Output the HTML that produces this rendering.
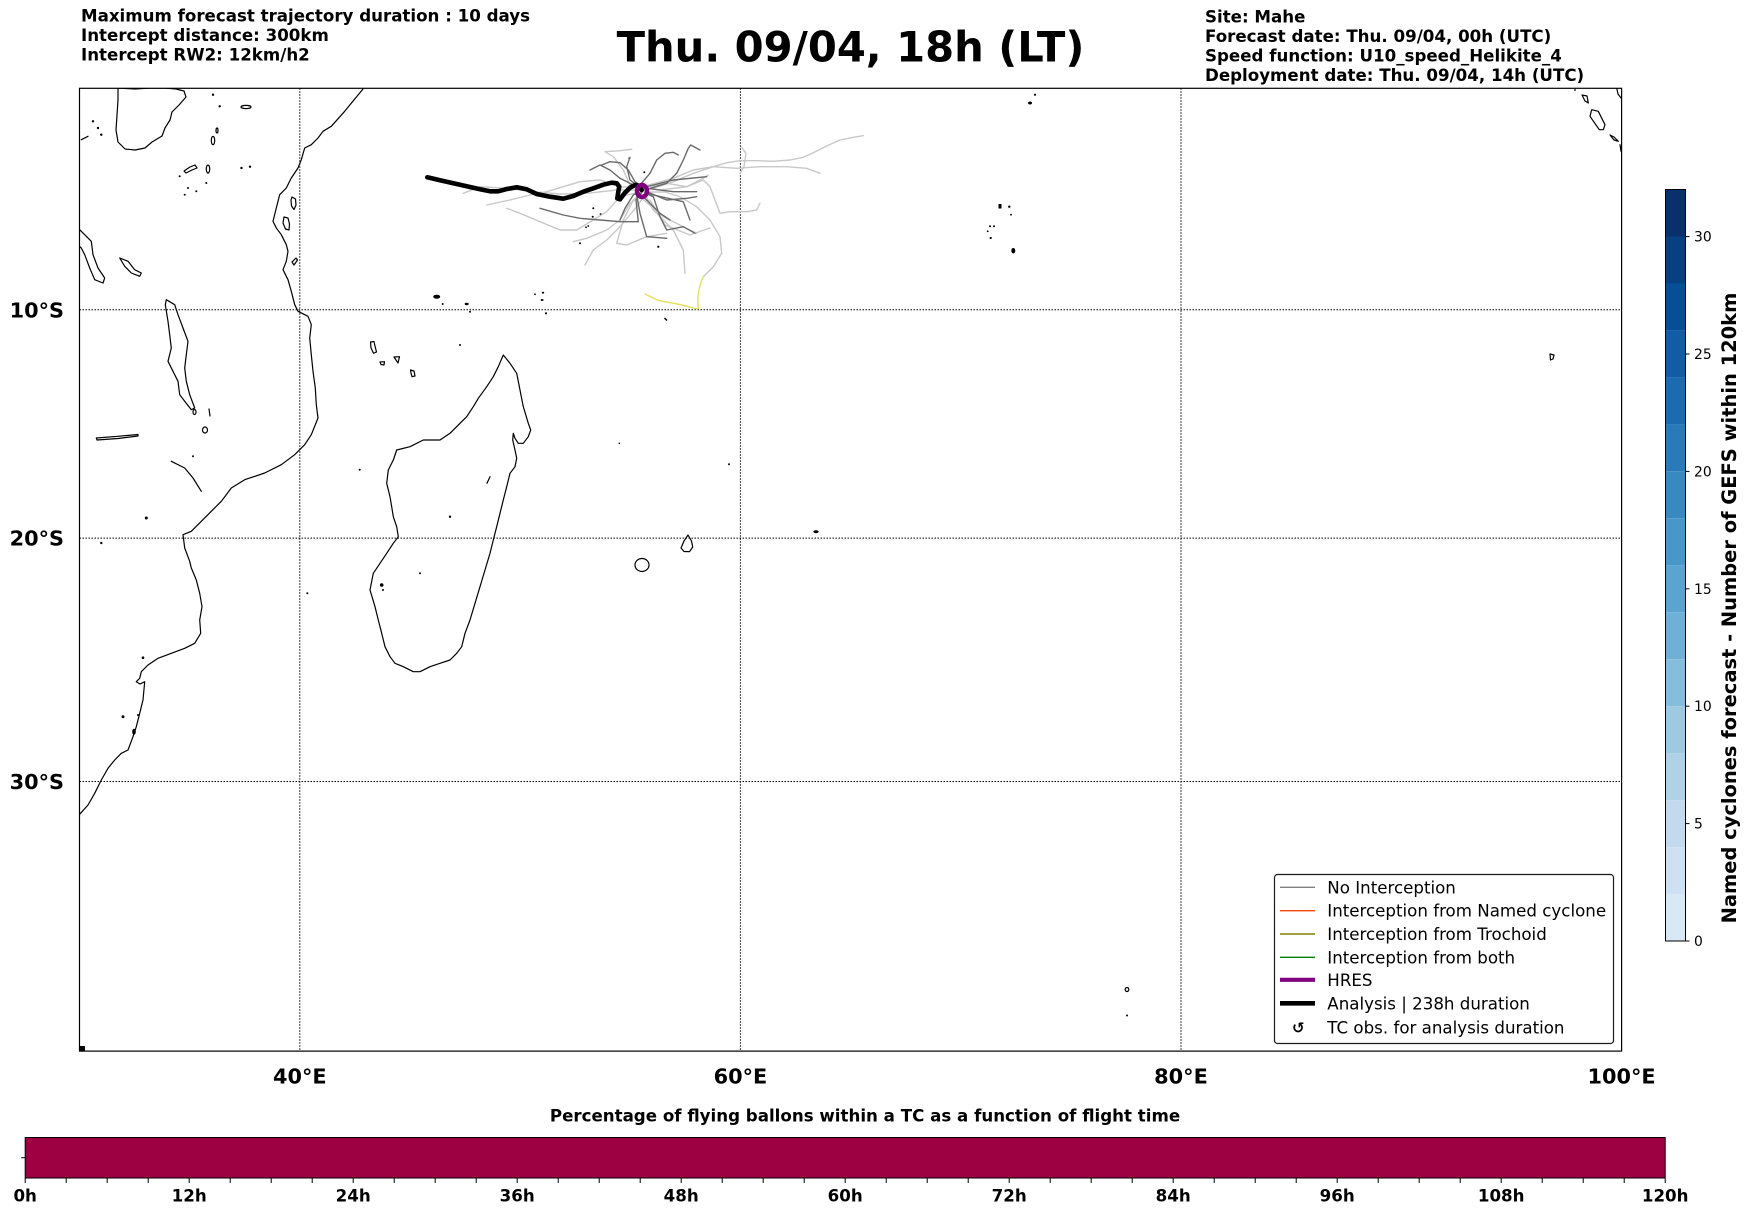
<!DOCTYPE html>
<html>
<head>
<meta charset="utf-8">
<style>
html,body{margin:0;padding:0;background:#fff;}
body{width:1752px;height:1213px;overflow:hidden;}
svg{display:block;}
text{font-family:"DejaVu Sans","Liberation Sans",sans-serif;}
.b{font-weight:bold;}
</style>
</head>
<body>
<svg width="1752" height="1213" viewBox="0 0 1752 1213" xmlns="http://www.w3.org/2000/svg">
<defs>
<clipPath id="mapclip"><rect x="79.5" y="88.3" width="1542.1" height="962.8"/></clipPath>
</defs>

<!-- Header text -->
<text class="b" x="81" y="21.5" font-size="16.67">Maximum forecast trajectory duration : 10 days</text>
<text class="b" x="81" y="41" font-size="16.67">Intercept distance: 300km</text>
<text class="b" x="81" y="60.5" font-size="16.67">Intercept RW2: 12km/h2</text>

<text class="b" x="850.5" y="61.7" font-size="41.67" text-anchor="middle">Thu. 09/04, 18h (LT)</text>

<text class="b" x="1205" y="22.5" font-size="16.67">Site: Mahe</text>
<text class="b" x="1205" y="42" font-size="16.67">Forecast date: Thu. 09/04, 00h (UTC)</text>
<text class="b" x="1205" y="61.5" font-size="16.67">Speed function: U10_speed_Helikite_4</text>
<text class="b" x="1205" y="81" font-size="16.67">Deployment date: Thu. 09/04, 14h (UTC)</text>

<!-- Map -->
<g clip-path="url(#mapclip)">
  <!-- Grid -->
  <g stroke="#000" stroke-width="1" stroke-dasharray="1.5 1.5" fill="none">
    <line x1="299.8" y1="88.3" x2="299.8" y2="1051"/>
    <line x1="740.4" y1="88.3" x2="740.4" y2="1051"/>
    <line x1="1181" y1="88.3" x2="1181" y2="1051"/>
    <line x1="79.5" y1="309.7" x2="1621.6" y2="309.7"/>
    <line x1="79.5" y1="538.1" x2="1621.6" y2="538.1"/>
    <line x1="79.5" y1="781.5" x2="1621.6" y2="781.5"/>
  </g>

  <!-- Coastlines -->
  <g stroke="#000" stroke-width="1.2" fill="none" stroke-linejoin="round" stroke-linecap="round">
    <!-- Africa -->
    <polyline points="363,89 344.7,111.3 331.3,126.3 323,131.3 318,138 311.3,144.7 304.7,148 301.3,159.7 298,168 291.3,178 286.3,188 279.7,194.7 276.3,208 273,221.3 276.3,228 281.3,234.7 286.3,244.7 288,251.3 286.3,261.3 283,269.7 288,279.7 291.3,291.3 294.7,304.7 298,311.3 308,316.3 311.3,324.7 309.7,338 311.3,354.7 313,371.3 315.3,388 316.3,404.7 318,418 311.3,434.7 304.7,444.7 294.7,454.7 281.3,464.7 264.7,473 244.7,479.7 231.3,488 221.3,501.3 211.3,511.3 201.3,521.3 191.3,531.3 183,534.7 184.7,548 189.7,561.3 191.3,568 193,572 196.3,580 199.7,593.3 202,606.7 199.7,620 200.7,633.3 194.7,643.3 184.7,648.3 171.3,653.3 158,658.3 148,665 141.3,671.7 139.7,678.3 136.3,681.7 140,684 144.7,681.7 143,700 139.7,713.3 136.3,726.7 133,736.7 128,750 121.3,753.3 114.7,760 108,768.3 101.3,780 94.7,793.3 88,805 79,815"/>
    <!-- Lake Victoria -->
    <polygon points="118,88 135,89 150,88 165,88 176,89 184,91 186,97 179,105 172,112 170,120 165,128 162,136 152,142 145,148 135,150 125,149 118,142 116,130 117,115 118,100"/>
    <polyline points="81.3,139.7 88,136.3"/>
    <!-- Lake Tanganyika -->
    <polygon points="79,229 81.3,231.3 91.3,241.3 93,254.7 98,268 104.7,278 103,283 94.7,279.7 89.7,268 84.7,254.7 81.3,248 79,246"/>
    <!-- Lake Rukwa -->
    <polygon points="119.7,258 128,261.3 134.7,269.7 141.3,273 139.7,276.3 131.3,273 124.7,266.3"/>
    <!-- Lake Malawi -->
    <polygon points="166.3,299.7 174.7,304.7 178,314.7 183,328 188,341.3 186.3,354.7 184.7,368 186.3,381.3 189.7,394.7 194.7,408 191.3,409.7 184.7,401.3 179.7,394.7 178,381.3 173,371.3 168,361.3 171.3,348 169.7,334.7 168,321.3 165.3,304.7"/>
    <ellipse cx="194.5" cy="412" rx="1.5" ry="2.5"/>
    <polyline points="209,409 210,416"/>
    <ellipse cx="205" cy="430" rx="2.5" ry="3"/>
    <!-- Lake Kariba -->
    <polygon points="96.3,438 118,436.3 138,434.5 138,436 118,438.5 97,440"/>
    <!-- Cahora Bassa -->
    <polyline points="171.3,461.3 184.7,468 193,478 201.3,491.3"/>
    <!-- small lakes -->
    <ellipse cx="246" cy="107" rx="5" ry="1.6"/>
    <ellipse cx="217" cy="130.5" rx="1" ry="2.5"/>
    <ellipse cx="213" cy="140.5" rx="1.7" ry="4.2"/>
    <polygon points="184,171 190,167 195,165 197,168 192,170 186,173"/>
    <ellipse cx="208" cy="169" rx="1.7" ry="4"/>
    <!-- Pemba, Zanzibar, Mafia -->
    <polygon points="292,197 295.5,199 296,205 294,209.5 291.5,206 291,200"/>
    <polygon points="284,217 288,218 289.5,224 289,230 285.5,229 283,223"/>
    <polygon points="292,262 296,258 297.5,260 294,265"/>
    <!-- Comoros / Mayotte -->
    <polygon points="370.5,342 374,341.5 375,346 376.5,352 373.5,353.3 371,348"/>
    <polygon points="380,362 384.5,361.7 384,365 381,364.5"/>
    <polygon points="394,357 399.5,356.7 398,363 396,360"/>
    <polygon points="410.5,370 414,371 415,376 412,376.7 411,373"/>
    <!-- Madagascar -->
    <polygon points="503.3,355 510,363.3 516.7,373.3 520,390 523.3,406.7 528.3,423.3 530.7,430 528.3,436.7 523.3,443.3 518.3,443.3 515,438.3 513.3,433.3 512.7,440 515,450 516.7,458.3 515,466.7 510,473.3 506.7,486.7 503.3,500 500,513.3 496.7,526.7 493.3,540 490,553.3 485,570 480,586.7 475,603.3 470,620 465,633.3 461.7,646.7 456.7,653.3 450,660 440,663.3 430,666.7 420,671.7 413.3,671.7 403.3,666.7 395,663.3 390,656.7 385,646.7 381.7,633.3 378.3,620 375,606.7 370,590 373.3,573.3 380,563.3 386.7,553.3 393.3,543.3 398.3,536.7 396.7,526.7 393.3,516.7 391.7,506.7 390,496.7 386.7,483.3 388.3,470 393.3,460 396.7,450 410,446.7 423.3,440 440,440 450,433.3 460,423.3 466.7,416.7 473.3,406.7 478.3,398.3 486.7,386.7 493.3,376.7 498.3,366.7"/>
    <polyline points="490,476.7 487,483.3"/>
    <!-- Réunion, Mauritius -->
    <ellipse cx="642" cy="565" rx="7" ry="6.5"/>
    <polygon points="688,535 691.5,541 692.7,547 689.5,551.7 684,551.5 681,548 684,541"/>
    <!-- Cocos -->
    <polygon points="1550,354 1554,355 1553,359 1550.5,360"/>
    <!-- Amsterdam -->
    <ellipse cx="1127" cy="989.5" rx="1.8" ry="2"/>
    <!-- Sumatra islands -->
    <polygon points="1591.7,109.7 1598.3,111.3 1605,124.7 1603.3,129.7 1599.3,129.7 1590,116.3"/>
    <polygon points="1582,95 1587,96 1588.3,103 1585,101"/>
    <polygon points="1610,135 1614,137 1618.3,141.3 1614,140"/>
    <polyline points="1616.7,88 1618,94 1621,98"/>
    <polyline points="1620,144.7 1621,151.3"/>
  </g>

  <!-- small filled islands / dots -->
  <g fill="#000">
    <circle cx="93" cy="121.3" r="1.2"/><circle cx="98" cy="128" r="1.2"/><circle cx="101.3" cy="134.7" r="1.2"/>
    <circle cx="213" cy="94.7" r="1.2"/><circle cx="219.7" cy="106.3" r="1.2"/>
    <circle cx="179.7" cy="176.3" r="1"/><circle cx="188" cy="188" r="1"/><circle cx="196.3" cy="191.3" r="1"/><circle cx="206.3" cy="183" r="1"/><circle cx="184.7" cy="194.7" r="1"/>
    <circle cx="241.5" cy="168" r="1.2"/><circle cx="250" cy="166.7" r="1.2"/>
    <circle cx="146.3" cy="518" r="1.5"/><circle cx="101.3" cy="543" r="1.2"/>
    <circle cx="193" cy="456.3" r="1"/><circle cx="359.7" cy="469.7" r="1"/>
    <circle cx="143" cy="657.7" r="1.3"/><circle cx="123" cy="716.7" r="1.5"/><circle cx="138" cy="715" r="1"/>
    <ellipse cx="134" cy="731.7" rx="1.8" ry="3"/>
    <circle cx="307.3" cy="593.3" r="1"/>
    <rect x="80" y="1046" width="5" height="5"/>
    <circle cx="460" cy="345" r="1"/><circle cx="450" cy="516.7" r="1.2"/><circle cx="420" cy="573.3" r="1"/>
    <circle cx="381.7" cy="585" r="1.8"/><circle cx="383" cy="590" r="1"/>
    <!-- Aldabra / Farquhar etc -->
    <ellipse cx="436.7" cy="296.7" rx="3.5" ry="2"/><circle cx="442.7" cy="304" r="1"/>
    <ellipse cx="466.7" cy="304" rx="2" ry="1.2"/><circle cx="470" cy="311.7" r="1"/>
    <circle cx="535" cy="294.3" r="0.9"/><circle cx="543.3" cy="292.7" r="0.9"/><circle cx="541.7" cy="300" r="1"/>
    <circle cx="546" cy="313.3" r="1.1"/><circle cx="542.7" cy="292.7" r="0.9"/><circle cx="542.7" cy="300" r="0.9"/>
    <!-- Seychelles -->
    <circle cx="593.3" cy="208.3" r="1"/><circle cx="592.7" cy="216.7" r="1"/><circle cx="600.7" cy="214.3" r="1"/>
    <circle cx="588.3" cy="226" r="0.9"/><circle cx="586" cy="227.3" r="0.9"/><circle cx="580" cy="243.3" r="1"/>
    <circle cx="658.3" cy="246.7" r="1.1"/><circle cx="644.3" cy="172.3" r="1"/><circle cx="629.3" cy="158.3" r="0.9"/>
    <!-- Mascarenes misc -->
    <ellipse cx="816" cy="531.7" rx="2.6" ry="1.5"/>
    <circle cx="619.3" cy="443.3" r="0.8"/><circle cx="729" cy="464.3" r="1"/>
    <!-- Maldives / Chagos -->
    <circle cx="1035" cy="94.7" r="1.1"/><ellipse cx="1030" cy="103" rx="2" ry="1.5"/>
    <rect x="998.5" y="204" width="3" height="4.5"/><circle cx="1009.3" cy="206.7" r="1.2"/><circle cx="1011" cy="214.7" r="0.9"/>
    <circle cx="990" cy="226.3" r="1"/><circle cx="994" cy="226.3" r="1"/><circle cx="987.7" cy="231.3" r="0.9"/><circle cx="990.7" cy="238" r="1.1"/>
    <ellipse cx="1013.3" cy="250.7" rx="2" ry="2.8"/>
    <circle cx="1127" cy="1015.5" r="1"/>
    <circle cx="1575" cy="90" r="0.9"/>
  </g>
  <line x1="664.5" y1="318" x2="667" y2="320.5" stroke="#000" stroke-width="1.5"/>

  <!-- Trajectories: light gray -->
  <g stroke="#c8c8c8" stroke-width="1.4" fill="none" stroke-linejoin="round" stroke-linecap="round">
    <polyline points="642,190 653.3,188.3 673.3,181.7 693.3,173.3 713.3,166.7 726.7,162.7 740,160.7 756.7,160.7 773.3,161.3 790,160 803.3,157.3 813.3,152.7 826.7,146 840,140 853.3,137.3 863.3,135.7"/>
    <polyline points="645,186 673.3,178.3 693.3,170 713.3,166.7 736.7,168.3 760,166.7 786.7,166.7 806.7,168.3 820,173.3"/>
    <polyline points="660,190 686.7,186.7 703.3,180 710,186.7 715,200 720,213.3 730,211.7 746.7,211.7 756.7,210 760,203.3"/>
    <polyline points="645,192 665,192 680,196.7 696.7,206.7 710,220 720,236.7 721.7,253.3 713.3,266.7 703.3,276.7"/>
    <polyline points="640,192 620,196.7 606.7,211.7 593.3,220 576.7,230 560,230 540,221.7 520,213.3 506.7,208.3"/>
    <polyline points="642,195 630,203.3 620,220 606.7,230 586.7,238.3 573.3,241.7"/>
    <polyline points="644,196 636.7,206.7 620,226.7 606.7,240 593.3,250 585,265"/>
    <polyline points="645,194 653.3,210 673.3,230 683.3,250 685,273.3"/>
    <polyline points="638,188 620,186.7 600,180 580,181.7 563.3,186.7 546.7,191.7 530,195 510,200 486.7,205"/>
    <polyline points="640,188 630,185 623.3,170 613.3,156.7 605,151.7 620,150.7 631.7,149.3"/>
    <polyline points="641,193 633.3,200 623.3,220 616.7,243.3 626.7,245 646.7,236.7 666.7,233.3"/>
    <polyline points="636,190 616.7,190 586.7,193.3 560,194 533.3,191.7 506.7,188.3 480,186.7 463.3,193.3"/>
    <polyline points="642,192 640,196.7 663.3,216.7 683.3,226.7 696.7,233.3"/>
    <polyline points="650,186 666.7,183.3 686.7,186.7 700,180 708.3,175"/>
    <polyline points="741.7,147.3 746,153.3 744,166.7 740,173.3"/>
    <polyline points="650,200 665,225 690,235 710,228"/>
  </g>
  <!-- Trajectories: dark gray -->
  <g stroke="#6a6a6a" stroke-width="1.4" fill="none" stroke-linejoin="round" stroke-linecap="round">
    <polyline points="640,188 633.3,185 620,178.3 610,170 600,165 590,170"/>
    <polyline points="641,186 635,181.7 628.3,170 620,162.7 610,161.7 601.7,165"/>
    <polyline points="642,188 640,185 650,173.3 656.7,160 665,153.3 673.3,152.3 678.3,155"/>
    <polyline points="645,190 650,188.3 666.7,183.3 676.7,173.3 683.3,160 688.3,148.3 690.7,145 700,150"/>
    <polyline points="642,192 636,200 638.3,221.7 620,221.7 600,220 580,218.3 563.3,215 540,208.3"/>
    <polyline points="645,193 653.3,196.7 660,216.7 666.7,230 683.3,226.7 695,233.3"/>
    <polyline points="640,193 636.7,195 640,213.3 646.7,236.7 666.7,238.3"/>
    <polyline points="646.7,188.3 673.3,191.7 696.7,191.7"/>
    <polyline points="645,192 653.3,195 683.3,201.7 690,220"/>
    <polyline points="646.7,186.7 673.3,180 706.7,176.7"/>
    <polyline points="638,192 633.3,195 625,208.3 620,220"/>
    <polyline points="643.3,196.7 660,213.3 670,220"/>
    <polyline points="638,186 630,180 626.7,166.7 630,157.3"/>
    <polyline points="646.7,191.7 666.7,200 686.7,198.3 696.7,196.7"/>
  </g>
  <!-- yellow -->
  <path d="M703.3,276.7 C698,288 697,300 698.5,308.5 L696.7,309 C690,307 683,305 675,303.5 C668,302 660,302 654,298.5 L645,294" stroke="#e6e060" stroke-width="1.4" fill="none"/>
  <!-- Analysis -->
  <polyline points="427.3,177.3 440,180.3 453.3,183.3 466.7,186.3 480,189.3 490,191.3 498.3,191.3 506.7,189 516.7,187.3 526.7,189.3 536.7,194 550,196.7 563.3,198.7 573.3,196 583.3,191.7 593.3,188.3 603.3,184.7 611.7,182.7 616.7,183.3 619.3,186.7 618.3,191.7 617.3,198.3 620,199.3 625,192.7 630,187.7 635,185 640,186 641.7,190" stroke="#000" stroke-width="4.6" fill="none" stroke-linejoin="round" stroke-linecap="round"/>
  <!-- HRES -->
  <ellipse cx="642" cy="191" rx="5" ry="6" stroke="#800080" stroke-width="4.5" fill="none"/>
</g>

<!-- Map frame -->
<rect x="79.5" y="88.3" width="1542.1" height="962.8" fill="none" stroke="#000" stroke-width="1.2"/>

<!-- Lat labels -->
<text class="b" x="64" y="317.3" font-size="20.83" text-anchor="end">10°S</text>
<text class="b" x="64" y="545.7" font-size="20.83" text-anchor="end">20°S</text>
<text class="b" x="64" y="789.1" font-size="20.83" text-anchor="end">30°S</text>
<!-- Lon labels -->
<text class="b" x="299.8" y="1083.6" font-size="20.83" text-anchor="middle">40°E</text>
<text class="b" x="740.4" y="1083.6" font-size="20.83" text-anchor="middle">60°E</text>
<text class="b" x="1181" y="1083.6" font-size="20.83" text-anchor="middle">80°E</text>
<text class="b" x="1621.6" y="1083.6" font-size="20.83" text-anchor="middle">100°E</text>

<!-- Legend -->
<rect x="1274.5" y="874.5" width="339" height="169" rx="3" fill="#fff" stroke="#1a1a1a" stroke-width="1.2"/>
<g stroke-width="1.4">
  <line x1="1280" y1="887.3" x2="1315" y2="887.3" stroke="#808080"/>
  <line x1="1280" y1="910.7" x2="1315" y2="910.7" stroke="#ff4500"/>
  <line x1="1280" y1="934" x2="1315" y2="934" stroke="#808000"/>
  <line x1="1280" y1="957.3" x2="1315" y2="957.3" stroke="#008000"/>
  <line x1="1280" y1="979.8" x2="1315" y2="979.8" stroke="#800080" stroke-width="4.2"/>
  <line x1="1280" y1="1003.3" x2="1315" y2="1003.3" stroke="#000" stroke-width="4.6"/>
</g>
<g font-size="16.67">
  <text x="1327.3" y="893.3">No Interception</text>
  <text x="1327.3" y="916.7">Interception from Named cyclone</text>
  <text x="1327.3" y="940">Interception from Trochoid</text>
  <text x="1327.3" y="963.3">Interception from both</text>
  <text x="1327.3" y="986">HRES</text>
  <text x="1327.3" y="1009.3">Analysis | 238h duration</text>
  <text x="1327.3" y="1033.3">TC obs. for analysis duration</text>
  <text class="b" x="1298.3" y="1033" text-anchor="middle" font-size="15">↺</text>
</g>

<!-- Right colorbar -->
<g>
  <rect x="1665.5" y="189.5" width="20" height="47" fill="#08306b"/>
  <rect x="1665.5" y="236.5" width="20" height="47" fill="#083f81"/>
  <rect x="1665.5" y="283.4" width="20" height="47" fill="#084e97"/>
  <rect x="1665.5" y="330.4" width="20" height="47" fill="#115ca5"/>
  <rect x="1665.5" y="377.4" width="20" height="47" fill="#1c6bb0"/>
  <rect x="1665.5" y="424.3" width="20" height="47" fill="#2a7ab9"/>
  <rect x="1665.5" y="471.3" width="20" height="47" fill="#3989c1"/>
  <rect x="1665.5" y="518.3" width="20" height="47" fill="#4997c9"/>
  <rect x="1665.5" y="565.2" width="20" height="47" fill="#5ca4d0"/>
  <rect x="1665.5" y="612.2" width="20" height="47" fill="#6fb0d7"/>
  <rect x="1665.5" y="659.2" width="20" height="47" fill="#86bddc"/>
  <rect x="1665.5" y="706.2" width="20" height="47" fill="#9dc9e1"/>
  <rect x="1665.5" y="753.1" width="20" height="47" fill="#b0d2e7"/>
  <rect x="1665.5" y="800.1" width="20" height="47" fill="#c2d9ee"/>
  <rect x="1665.5" y="847.1" width="20" height="47" fill="#cee1f2"/>
  <rect x="1665.5" y="894" width="20" height="47" fill="#d9e8f5"/>
  <rect x="1665.5" y="189.5" width="20" height="751.5" fill="none" stroke="#000" stroke-width="1"/>
  <g stroke="#000" stroke-width="1">
    <line x1="1685.5" y1="941" x2="1689.5" y2="941"/>
    <line x1="1685.5" y1="823.6" x2="1689.5" y2="823.6"/>
    <line x1="1685.5" y1="706.2" x2="1689.5" y2="706.2"/>
    <line x1="1685.5" y1="588.8" x2="1689.5" y2="588.8"/>
    <line x1="1685.5" y1="471.4" x2="1689.5" y2="471.4"/>
    <line x1="1685.5" y1="354" x2="1689.5" y2="354"/>
    <line x1="1685.5" y1="236.6" x2="1689.5" y2="236.6"/>
  </g>
  <g font-size="13.9">
    <text x="1694" y="946">0</text>
    <text x="1694" y="828.6">5</text>
    <text x="1694" y="711.2">10</text>
    <text x="1694" y="593.8">15</text>
    <text x="1694" y="476.4">20</text>
    <text x="1694" y="359">25</text>
    <text x="1694" y="241.6">30</text>
  </g>
  <text class="b" font-size="19.44" text-anchor="middle" transform="translate(1736,608) rotate(-90)">Named cyclones forecast - Number of GEFS within 120km</text>
</g>

<!-- Bottom colorbar -->
<text class="b" x="865" y="1121.5" font-size="16.67" text-anchor="middle">Percentage of flying ballons within a TC as a function of flight time</text>
<rect x="25.2" y="1137.5" width="1640" height="40.5" fill="#9e0142" stroke="#000" stroke-width="1"/>
<line x1="21.2" y1="1157.7" x2="25.2" y2="1157.7" stroke="#000" stroke-width="1"/>
<g stroke="#000" stroke-width="1">
  <line x1="25.2" y1="1178" x2="25.2" y2="1183"/><line x1="66.2" y1="1178" x2="66.2" y2="1183"/><line x1="107.2" y1="1178" x2="107.2" y2="1183"/><line x1="148.2" y1="1178" x2="148.2" y2="1183"/>
  <line x1="189.2" y1="1178" x2="189.2" y2="1183"/><line x1="230.2" y1="1178" x2="230.2" y2="1183"/><line x1="271.2" y1="1178" x2="271.2" y2="1183"/><line x1="312.2" y1="1178" x2="312.2" y2="1183"/>
  <line x1="353.2" y1="1178" x2="353.2" y2="1183"/><line x1="394.2" y1="1178" x2="394.2" y2="1183"/><line x1="435.2" y1="1178" x2="435.2" y2="1183"/><line x1="476.2" y1="1178" x2="476.2" y2="1183"/>
  <line x1="517.2" y1="1178" x2="517.2" y2="1183"/><line x1="558.2" y1="1178" x2="558.2" y2="1183"/><line x1="599.2" y1="1178" x2="599.2" y2="1183"/><line x1="640.2" y1="1178" x2="640.2" y2="1183"/>
  <line x1="681.2" y1="1178" x2="681.2" y2="1183"/><line x1="722.2" y1="1178" x2="722.2" y2="1183"/><line x1="763.2" y1="1178" x2="763.2" y2="1183"/><line x1="804.2" y1="1178" x2="804.2" y2="1183"/>
  <line x1="845.2" y1="1178" x2="845.2" y2="1183"/><line x1="886.2" y1="1178" x2="886.2" y2="1183"/><line x1="927.2" y1="1178" x2="927.2" y2="1183"/><line x1="968.2" y1="1178" x2="968.2" y2="1183"/>
  <line x1="1009.2" y1="1178" x2="1009.2" y2="1183"/><line x1="1050.2" y1="1178" x2="1050.2" y2="1183"/><line x1="1091.2" y1="1178" x2="1091.2" y2="1183"/><line x1="1132.2" y1="1178" x2="1132.2" y2="1183"/>
  <line x1="1173.2" y1="1178" x2="1173.2" y2="1183"/><line x1="1214.2" y1="1178" x2="1214.2" y2="1183"/><line x1="1255.2" y1="1178" x2="1255.2" y2="1183"/><line x1="1296.2" y1="1178" x2="1296.2" y2="1183"/>
  <line x1="1337.2" y1="1178" x2="1337.2" y2="1183"/><line x1="1378.2" y1="1178" x2="1378.2" y2="1183"/><line x1="1419.2" y1="1178" x2="1419.2" y2="1183"/><line x1="1460.2" y1="1178" x2="1460.2" y2="1183"/>
  <line x1="1501.2" y1="1178" x2="1501.2" y2="1183"/><line x1="1542.2" y1="1178" x2="1542.2" y2="1183"/><line x1="1583.2" y1="1178" x2="1583.2" y2="1183"/><line x1="1624.2" y1="1178" x2="1624.2" y2="1183"/>
  <line x1="1665.2" y1="1178" x2="1665.2" y2="1183"/>
</g>
<g class="b" font-size="16.67" text-anchor="middle" font-weight="bold">
  <text x="25.2" y="1201.5">0h</text>
  <text x="189.2" y="1201.5">12h</text>
  <text x="353.2" y="1201.5">24h</text>
  <text x="517.2" y="1201.5">36h</text>
  <text x="681.2" y="1201.5">48h</text>
  <text x="845.2" y="1201.5">60h</text>
  <text x="1009.2" y="1201.5">72h</text>
  <text x="1173.2" y="1201.5">84h</text>
  <text x="1337.2" y="1201.5">96h</text>
  <text x="1501.2" y="1201.5">108h</text>
  <text x="1665.2" y="1201.5">120h</text>
</g>
</svg>
</body>
</html>
